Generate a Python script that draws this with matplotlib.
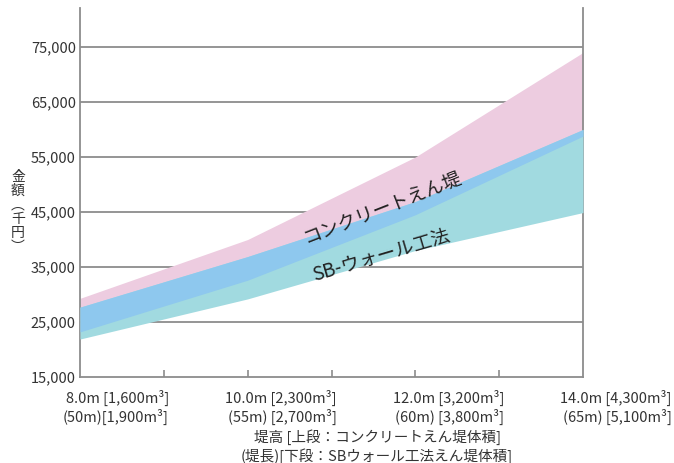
import matplotlib.pyplot as plt
from matplotlib.ticker import FuncFormatter

plt.rcParams['font.family'] = ['Noto Sans CJK JP', 'DejaVu Sans']

# 堤高 (m)
heights = [8.0, 10.0, 12.0, 14.0]
# コンクリートえん堤 cost range (千円)
concrete_low = [23200, 32600, 44500, 58800]
concrete_high = [29300, 40000, 55000, 74000]
# SBウォール工法 cost range (千円)
sb_low = [21900, 29200, 38000, 44900]
sb_high = [27700, 36900, 46900, 60000]

upper_labels = ["8.0m [1,600m³]", "10.0m [2,300m³]", "12.0m [3,200m³]", "14.0m [4,300m³]"]
lower_labels = ["(50m)[1,900m³]", "(55m) [2,700m³]", "(60m) [3,800m³]", "(65m) [5,100m³]"]
yticks = [15000, 25000, 35000, 45000, 55000, 65000, 75000]

pink = '#edcce0'
blue = '#8ec8ee'
teal = '#a1dae0'
grey = '#8c8c8c'
txt = '#333333'

fig = plt.figure(figsize=(6.74, 4.63), dpi=100)
ax = fig.add_axes([80 / 674, 1 - 377 / 463, 503 / 674, 369 / 463])

# overlap region = max(lows) .. min(highs)
ov_low = [max(a, b) for a, b in zip(concrete_low, sb_low)]
ov_high = [min(a, b) for a, b in zip(concrete_high, sb_high)]

ax.fill_between(heights, concrete_low, concrete_high, color=pink, lw=0, zorder=2)
ax.fill_between(heights, sb_low, sb_high, color=teal, lw=0, zorder=3)
ax.fill_between(heights, ov_low, ov_high, color=blue, lw=0, zorder=4)

ax.set_xlim(8, 14)
ax.set_ylim(15000, 82090)
ax.set_yticks(yticks)
ax.yaxis.set_major_formatter(FuncFormatter(lambda v, p: f"{int(v):,}"))
ax.tick_params(axis='y', length=0, pad=3, labelsize=10.5, labelcolor=txt)
for y in yticks[1:]:
    ax.axhline(y, color=grey, lw=1.3, zorder=1)

ax.set_xticks([9, 10, 11, 12, 13])
ax.tick_params(axis='x', direction='in', length=5, color=grey, width=1.2, labelbottom=False)

for side in ['left', 'right', 'bottom']:
    ax.spines[side].set_color(grey)
    ax.spines[side].set_linewidth(1.3)
ax.spines['top'].set_visible(False)

# category labels under the axis
trans = ax.get_xaxis_transform()
for h, up, lo in zip(heights, upper_labels, lower_labels):
    ax.text(h + 1.06, -0.035, up + "\n" + lo, transform=trans, ha='right', va='top',
            fontsize=10.5, color=txt, linespacing=1.2, multialignment='right', clip_on=False)

fig.text(377 / 674, 1 - 429 / 463,
         "堤高 [上段：コンクリートえん堤体積]\n(堤長)[下段：SBウォール工法えん堤体積]",
         ha='center', va='top', fontsize=10.5, color=txt, linespacing=1.25)

fig.text(18 / 674, 1 - 212 / 463, "金\n額\n︵\n千\n円\n︶", ha='center', va='center',
         fontsize=10, color=txt, linespacing=1.0)

ax.text(11.6, 45700, "コンクリートえん堤", rotation=21.5, ha='center', va='center',
        fontsize=13.5, color='#222222', zorder=6)
ax.text(11.6, 37000, "SB-ウォール工法", rotation=16.5, ha='center', va='center',
        fontsize=13.5, color='#222222', zorder=6)

fig.savefig('out.png', dpi=100)
